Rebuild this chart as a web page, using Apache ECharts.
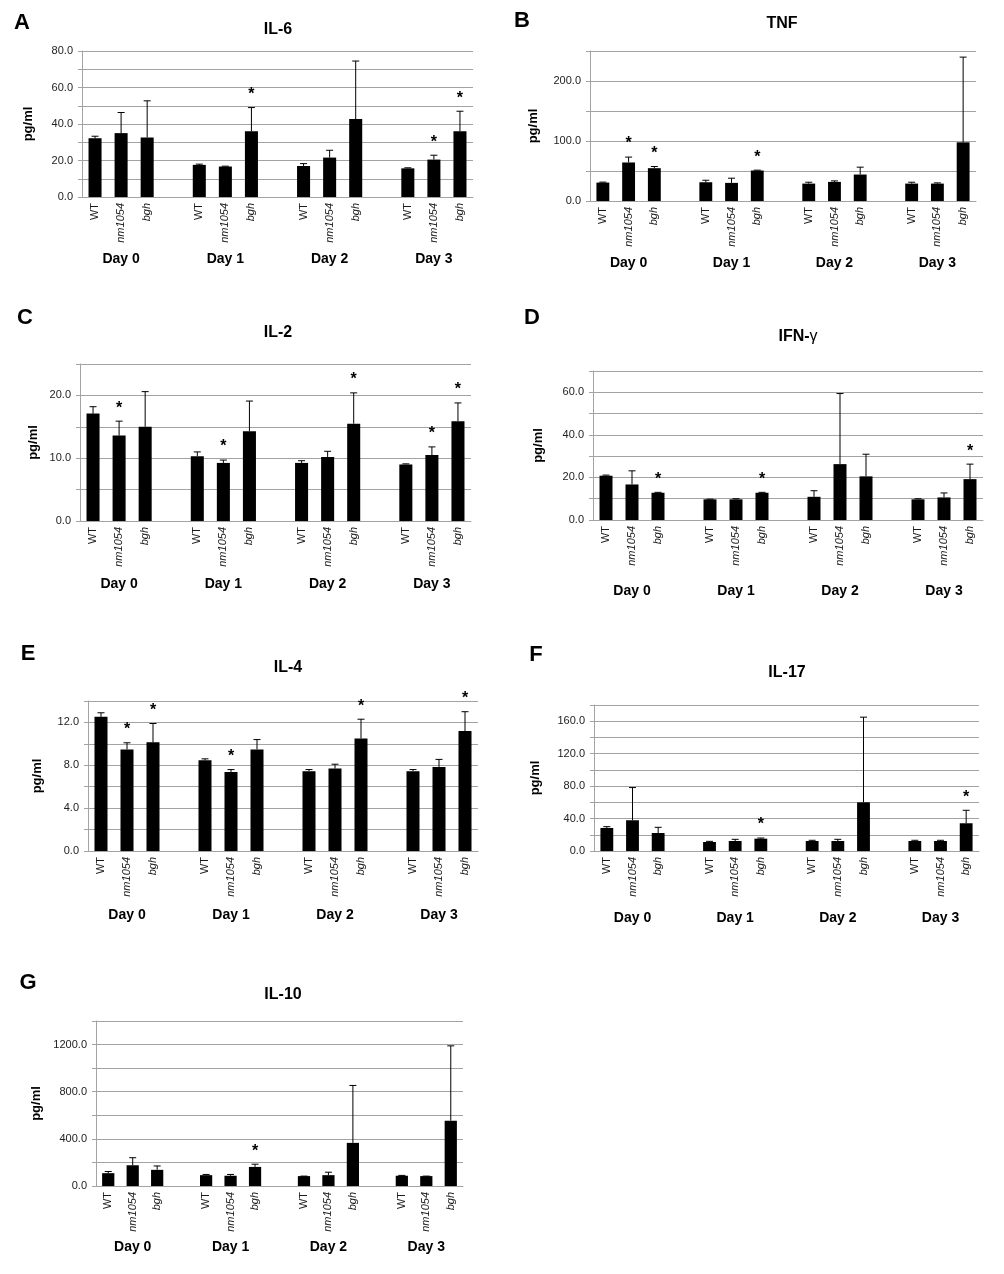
<!DOCTYPE html>
<html><head><meta charset="utf-8">
<script src="https://cdn.jsdelivr.net/npm/echarts@6/dist/echarts.min.js"></script>
<style>html,body{margin:0;padding:0;background:#fff}#c{width:1004px;height:1274px}</style>
</head><body><div id="c"></div>
<script>
// ---- data ----
const days = ['Day 0', 'Day 1', 'Day 2', 'Day 3'];
const strains = ['WT', 'nm1054', 'bgh'];

const il6Mean = [32.2, 35.0, 32.6, 17.6, 16.7, 36.0, 17.0, 21.6, 42.7, 15.7, 20.5, 36.0];
const il6Err  = [1.1, 11.3, 20.1, 0.4, 0.2, 13.0, 1.3, 4.0, 31.8, 0.3, 2.4, 11.0];
const il6Star = [0,0,0, 0,0,1, 0,0,0, 0,1,1];

const tnfMean = [30.7, 64.2, 54.7, 31.3, 30.2, 50.8, 29.0, 31.8, 44.1, 29.0, 29.0, 97.8];
const tnfErr  = [0.8, 9.0, 2.8, 3.3, 7.8, 0.6, 2.3, 1.7, 12.3, 2.3, 1.2, 142];
const tnfStar = [0,1,1, 0,0,1, 0,0,0, 0,0,0];

const il2Mean = [17.1, 13.6, 15.0, 10.3, 9.25, 14.3, 9.25, 10.2, 15.5, 9.0, 10.5, 15.9];
const il2Err  = [1.1, 2.3, 5.6, 0.7, 0.45, 4.8, 0.35, 0.9, 4.9, 0.1, 1.3, 2.9];
const il2Star = [0,1,0, 0,1,0, 0,0,1, 0,1,1];

const ifnMean = [20.8, 16.7, 12.8, 9.7, 9.7, 12.8, 10.9, 26.25, 20.5, 9.7, 10.6, 19.2];
const ifnErr  = [0.3, 6.4, 0.2, 0.1, 0.3, 0.2, 2.85, 33.15, 10.4, 0.3, 2.1, 7.05];
const ifnStar = [0,0,1, 0,0,1, 0,0,0, 0,0,1];

const il4Mean = [12.52, 9.48, 10.15, 8.46, 7.38, 9.48, 7.45, 7.7, 10.5, 7.45, 7.85, 11.2];
const il4Err  = [0.38, 0.62, 1.75, 0.14, 0.22, 0.92, 0.15, 0.4, 1.8, 0.15, 0.7, 1.8];
const il4Star = [0,1,1, 0,1,0, 0,0,1, 0,0,1];

const il17Mean = [28.4, 37.9, 22.2, 11.1, 12.3, 15.2, 12.3, 12.3, 60.0, 12.3, 12.3, 34.2];
const il17Err  = [1.6, 40.3, 7.0, 0.8, 2.1, 0.8, 0.9, 2.1, 105, 0.9, 0.9, 16.0];
const il17Star = [0,0,0, 0,0,1, 0,0,0, 0,0,1];

const il10Mean = [109, 176, 137, 92, 87, 162, 84, 92, 366, 87, 84, 554];
const il10Err  = [14, 64, 33, 6, 11, 23, 0, 25, 487, 3, 0, 635];
const il10Star = [0,0,0, 0,0,1, 0,0,0, 0,0,0];

// ---- layout / style ----
const FF = '"Liberation Sans", Arial, Helvetica, sans-serif';
const GRID_C = '#a3a3a3';

const panels = [
  {letter:'A', title:'IL-6', mean:il6Mean, err:il6Err, star:il6Star, max:80, step:10, labelStep:20,
   grid:{left:82, top:51, width:391, height:146}, titlePos:[278,30], letterPos:[22,23], nameX:28, dayGap:55},
  {letter:'B', title:'TNF', mean:tnfMean, err:tnfErr, star:tnfStar, max:250, step:50, labelStep:100,
   grid:{left:590, top:51, width:386, height:150}, titlePos:[782,24], letterPos:[522,21], nameX:533, dayGap:55},
  {letter:'C', title:'IL-2', mean:il2Mean, err:il2Err, star:il2Star, max:25, step:5, labelStep:10,
   grid:{left:80, top:364, width:391, height:157}, titlePos:[278,333], letterPos:[25,318], nameX:33, dayGap:56},
  {letter:'D', title:'IFN-', greek:'γ', mean:ifnMean, err:ifnErr, star:ifnStar, max:70, step:10, labelStep:20,
   grid:{left:593, top:371, width:390, height:149}, titlePos:[798,337], letterPos:[532,318], nameX:538, dayGap:64},
  {letter:'E', title:'IL-4', mean:il4Mean, err:il4Err, star:il4Star, max:14, step:2, labelStep:4,
   grid:{left:88, top:701, width:390, height:150}, titlePos:[288,668], letterPos:[28,654], nameX:37, dayGap:57},
  {letter:'F', title:'IL-17', mean:il17Mean, err:il17Err, star:il17Star, max:180, step:20, labelStep:40,
   grid:{left:594, top:705, width:385, height:146}, titlePos:[787,673], letterPos:[536,655], nameX:535, dayGap:60},
  {letter:'G', title:'IL-10', mean:il10Mean, err:il10Err, star:il10Star, max:1400, step:200, labelStep:400,
   grid:{left:96, top:1021, width:367, height:165}, titlePos:[283,995], letterPos:[28,983], nameX:36, dayGap:54}
];

// categories: 3 strains per day with a blank slot between days
const categories = [];
const slotOf = [];
days.forEach((d, g) => {
  strains.forEach((s, k) => { slotOf.push(categories.length); categories.push(s); });
  if (g < days.length - 1) categories.push('');
});

const grids = [], xAxes = [], yAxes = [], series = [], graphics = [];

panels.forEach((p, pi) => {
  grids.push(Object.assign({containLabel:false}, p.grid));
  xAxes.push({
    type:'category', gridIndex:pi, data:categories,
    axisLine:{lineStyle:{color:GRID_C, width:1}}, axisTick:{show:false},
    axisLabel:{interval:0, rotate:90, margin:6, fontSize:11, color:'#1a1a1a', fontFamily:FF,
      formatter:(v) => v === 'WT' ? v : (v ? '{i|' + v + '}' : ''),
      rich:{i:{fontStyle:'italic', fontSize:11, color:'#1a1a1a', fontFamily:FF}}},
    splitLine:{show:false}
  });
  xAxes.push({
    type:'category', gridIndex:pi, position:'bottom', data:categories,
    axisLine:{show:false}, axisTick:{show:false}, splitLine:{show:false},
    axisLabel:{interval:0, margin:p.dayGap, fontSize:14, fontWeight:'bold', color:'#000', fontFamily:FF,
      formatter:(v, i) => (i % 4 === 1) ? days[(i - 1) / 4] : ''}
  });
  yAxes.push({
    type:'value', gridIndex:pi, min:0, max:p.max, interval:p.step,
    axisLine:{show:true, lineStyle:{color:GRID_C, width:1}},
    axisTick:{show:true, length:4, lineStyle:{color:GRID_C}},
    splitLine:{show:true, lineStyle:{color:GRID_C, width:1}},
    axisLabel:{margin:9, fontSize:11, color:'#222', fontFamily:FF,
      formatter:(v) => (Math.round(v) % p.labelStep === 0) ? v.toFixed(1) : ''},
    name:'pg/ml', nameLocation:'middle', nameRotate:90,
    nameGap: p.grid.left - p.nameX - 7,
    nameTextStyle:{fontSize:13, fontWeight:'bold', color:'#000', fontFamily:FF}
  });

  const barData = categories.map(() => '-');
  const errData = [];
  p.mean.forEach((m, k) => {
    const s = slotOf[k];
    barData[s] = m;
    errData.push([s, m, m + p.err[k], p.star[k]]);
  });

  series.push({
    type:'bar', xAxisIndex:pi * 2, yAxisIndex:pi, data:barData, barWidth:'50%',
    itemStyle:{color:'#000'}, silent:true, animation:false
  });
  series.push({
    type:'custom', xAxisIndex:pi * 2, yAxisIndex:pi, data:errData, z:5, silent:true, animation:false,
    encode:{x:0, y:[1, 2]},
    renderItem:(params, api) => {
      const idx = api.value(0);
      const lo = api.coord([idx, api.value(1)]);
      const hi = api.coord([idx, api.value(2)]);
      const children = [
        {type:'line', shape:{x1:lo[0], y1:lo[1], x2:hi[0], y2:hi[1]}, style:{stroke:'#000', lineWidth:1}},
        {type:'line', shape:{x1:hi[0] - 3.5, y1:hi[1], x2:hi[0] + 3.5, y2:hi[1]}, style:{stroke:'#000', lineWidth:1}}
      ];
      if (api.value(3)) {
        children.push({type:'text', style:{text:'*', x:hi[0], y:hi[1] - 13, align:'center', verticalAlign:'middle',
          font:'bold 16px ' + FF, fill:'#000'}});
      }
      return {type:'group', children};
    }
  });

  graphics.push({
    type:'text', x:p.letterPos[0], y:p.letterPos[1],
    style:{text:p.letter, align:'center', verticalAlign:'middle', font:'bold 22px ' + FF, fill:'#000'}
  });
  graphics.push({
    type:'text', x:p.titlePos[0], y:p.titlePos[1],
    style:{
      text: p.greek ? '{b|' + p.title + '}{g|' + p.greek + '}' : '{b|' + p.title + '}',
      align:'center', verticalAlign:'middle',
      rich:{b:{font:'bold 16px ' + FF, fill:'#000'}, g:{font:'16px ' + FF, fill:'#000'}}
    }
  });
});

const chart = echarts.init(document.getElementById('c'), null, {renderer:'canvas'});
chart.setOption({
  backgroundColor:'#fff',
  animation:false,
  grid:grids, xAxis:xAxes, yAxis:yAxes, series:series, graphic:graphics
});
</script>
</body></html>
